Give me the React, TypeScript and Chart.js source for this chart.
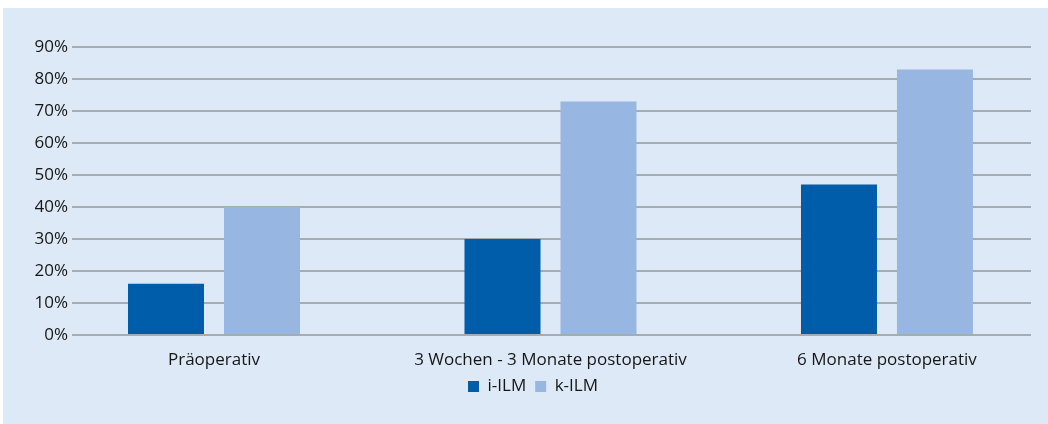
import { useEffect, useRef } from "react";
import { Chart, registerables } from "chart.js";

Chart.register(...registerables);

// Categories along the x axis
const categories = [
  "Präoperativ",
  "3 Wochen - 3 Monate postoperativ",
  "6 Monate postoperativ",
];

// Series names and values (percent)
const seriesNames = ["i-ILM", "k-ILM"];
const iIlmValues = [16, 30, 47];
const kIlmValues = [40, 73, 83];

// Y axis range
const yMin = 0;
const yMax = 90;
const yStep = 10;

const seriesColors = ["#005da9", "#98b6e2"];
const fontFamily = "'Open Sans', sans-serif";
const textColor = "#161616";

export default function App() {
  const canvasRef = useRef<HTMLCanvasElement>(null);

  useEffect(() => {
    const canvas = canvasRef.current;
    if (!canvas) return;

    const toPoints = (values: number[]) => values.map((v, i) => ({ x: i, y: v }));

    const chart = new Chart(canvas, {
      type: "bar",
      data: {
        datasets: [
          {
            label: seriesNames[0],
            data: toPoints(iIlmValues),
            backgroundColor: seriesColors[0],
            borderWidth: 0,
            categoryPercentage: 0.5706,
            barPercentage: 0.7917,
          },
          {
            label: seriesNames[1],
            data: toPoints(kIlmValues),
            backgroundColor: seriesColors[1],
            borderWidth: 0,
            categoryPercentage: 0.5706,
            barPercentage: 0.7917,
          },
        ],
      },
      options: {
        responsive: false,
        devicePixelRatio: 1,
        animation: false,
        layout: {
          padding: { left: 32, right: 17, top: 39, bottom: 19 },
        },
        scales: {
          x: {
            type: "linear",
            min: -0.422,
            max: 2.428,
            offset: false,
            grid: { display: false, drawTicks: false, offset: false },
            border: { display: false },
            afterBuildTicks: (scale: any) => {
              scale.ticks = categories.map((_, i) => ({ value: i }));
            },
            afterFit: (scale: any) => {
              scale.height = 34;
            },
            ticks: {
              padding: 15,
              autoSkip: false,
              maxRotation: 0,
              color: textColor,
              font: { family: fontFamily, size: 17 },
              callback: (value: any) => categories[Number(value)] ?? "",
            },
          },
          y: {
            min: yMin,
            max: yMax,
            grid: {
              color: "#a4acb4",
              lineWidth: 2,
              drawTicks: false,
            },
            border: { display: false },
            afterFit: (scale: any) => {
              scale.width = 37;
            },
            ticks: {
              stepSize: yStep,
              padding: 4,
              color: textColor,
              font: { family: fontFamily, size: 17 },
              callback: (value: any) => `${value}%`,
            },
          },
        },
        plugins: {
          legend: {
            display: true,
            position: "bottom",
            labels: {
              boxWidth: 11,
              boxHeight: 11,
              padding: 9,
              color: textColor,
              font: { family: fontFamily, size: 17 },
            },
          },
          tooltip: { enabled: false },
        },
      },
    } as any);

    return () => chart.destroy();
  }, []);

  return (
    <div
      style={{
        position: "fixed",
        left: 0,
        top: 0,
        width: 1048,
        height: 424,
        background: "#ffffff",
      }}
    >
      <div
        style={{
          position: "absolute",
          left: 3,
          top: 8,
          width: 1045,
          height: 416,
          background: "#dde9f6",
        }}
      >
        <canvas
          ref={canvasRef}
          width={1045}
          height={416}
          style={{ display: "block", width: 1045, height: 416 }}
        />
      </div>
    </div>
  );
}
